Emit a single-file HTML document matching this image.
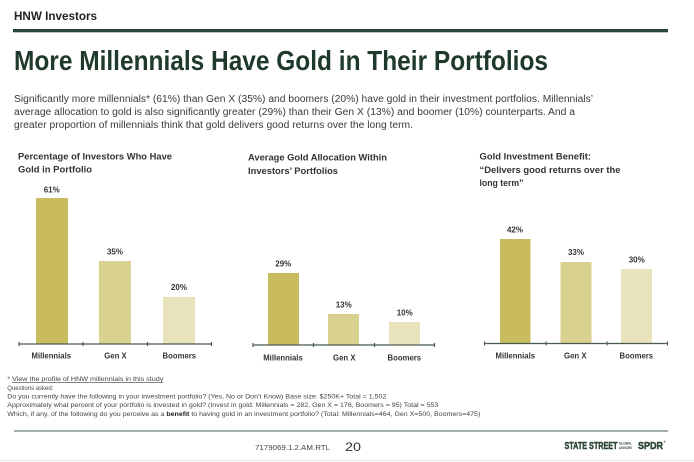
<!DOCTYPE html>
<html>
<head>
<meta charset="utf-8">
<style>
  html,body{margin:0;padding:0;background:#fff;}
  svg{display:block;}
  text{font-family:"Liberation Sans",Arial,sans-serif;}
</style>
</head>
<body>
<svg width="694" height="462" viewBox="0 0 694 462" xmlns="http://www.w3.org/2000/svg">
  <rect width="694" height="462" fill="#ffffff"/>

  <!-- Header -->
  <text x="14" y="20" font-size="11.5" font-weight="bold" fill="#222" textLength="83" lengthAdjust="spacingAndGlyphs">HNW Investors</text>
  <rect x="13" y="29" width="655" height="3.3" fill="#2a4536"/>

  <!-- Title -->
  <text x="14" y="70" font-size="28" font-weight="bold" fill="#1f3a2b" textLength="534" lengthAdjust="spacingAndGlyphs">More Millennials Have Gold in Their Portfolios</text>

  <!-- Body -->
  <g font-size="10" fill="#3a3a3a">
    <text x="14" y="102" textLength="579" lengthAdjust="spacingAndGlyphs">Significantly more millennials* (61%) than Gen X (35%) and boomers (20%) have gold in their investment portfolios. Millennials’</text>
    <text x="14" y="115" textLength="561" lengthAdjust="spacingAndGlyphs">average allocation to gold is also significantly greater (29%) than their Gen X (13%) and boomer (10%) counterparts. And a</text>
    <text x="14" y="128" textLength="399" lengthAdjust="spacingAndGlyphs">greater proportion of millennials think that gold delivers good returns over the long term.</text>
  </g>

  <!-- Chart titles -->
  <g font-size="9.5" font-weight="bold" fill="#333">
    <text x="18" y="159.5" textLength="154" lengthAdjust="spacingAndGlyphs">Percentage of Investors Who Have</text>
    <text x="18" y="172.5" textLength="74" lengthAdjust="spacingAndGlyphs">Gold in Portfolio</text>

    <text x="248" y="160.5" textLength="139" lengthAdjust="spacingAndGlyphs">Average Gold Allocation Within</text>
    <text x="248" y="174" textLength="90" lengthAdjust="spacingAndGlyphs">Investors’ Portfolios</text>

    <text x="479.5" y="159.5" textLength="111.5" lengthAdjust="spacingAndGlyphs">Gold Investment Benefit:</text>
    <text x="479.5" y="172.8" textLength="141" lengthAdjust="spacingAndGlyphs">“Delivers good returns over the</text>
    <text x="479.5" y="186" textLength="44" lengthAdjust="spacingAndGlyphs">long term”</text>
  </g>

  <!-- Chart 1 bars -->
  <rect x="36" y="198" width="32" height="146" fill="#c9bc5f"/>
  <rect x="99" y="261" width="32" height="83" fill="#d9d18f"/>
  <rect x="163" y="297" width="32" height="47" fill="#e8e3bb"/>
  <!-- Chart 2 bars -->
  <rect x="268" y="273" width="31" height="72" fill="#c9bc5f"/>
  <rect x="328" y="314" width="31" height="31" fill="#d9d18f"/>
  <rect x="389" y="322" width="31" height="23" fill="#e8e3bb"/>
  <!-- Chart 3 bars -->
  <rect x="500" y="239" width="30.5" height="104.5" fill="#c9bc5f"/>
  <rect x="560.5" y="262" width="31" height="81.5" fill="#d9d18f"/>
  <rect x="621" y="269" width="31" height="74.5" fill="#e8e3bb"/>

  <!-- Axes -->
  <g stroke="#4b5a50" stroke-width="1.2" fill="none">
    <line x1="19" y1="344" x2="212" y2="344"/>
    <line x1="19" y1="342" x2="19" y2="346"/>
    <line x1="83" y1="342" x2="83" y2="346"/>
    <line x1="147.5" y1="342" x2="147.5" y2="346"/>
    <line x1="211.5" y1="342" x2="211.5" y2="346"/>

    <line x1="253" y1="345" x2="435" y2="345"/>
    <line x1="253" y1="343" x2="253" y2="347"/>
    <line x1="313.5" y1="343" x2="313.5" y2="347"/>
    <line x1="374.5" y1="343" x2="374.5" y2="347"/>
    <line x1="434.5" y1="343" x2="434.5" y2="347"/>

    <line x1="484" y1="343.5" x2="668" y2="343.5"/>
    <line x1="484.5" y1="341.5" x2="484.5" y2="345.5"/>
    <line x1="546" y1="341.5" x2="546" y2="345.5"/>
    <line x1="607" y1="341.5" x2="607" y2="345.5"/>
    <line x1="667.5" y1="341.5" x2="667.5" y2="345.5"/>
  </g>

  <!-- Value labels -->
  <g font-size="8" font-weight="bold" fill="#333" text-anchor="middle">
    <text x="51.7" y="192.3">61%</text>
    <text x="115" y="254.3">35%</text>
    <text x="179" y="290">20%</text>

    <text x="283.3" y="266.7">29%</text>
    <text x="343.7" y="307.3">13%</text>
    <text x="404.7" y="315.7">10%</text>

    <text x="515" y="232.3">42%</text>
    <text x="576" y="255">33%</text>
    <text x="636.7" y="262.3">30%</text>
  </g>

  <!-- Category labels -->
  <g font-size="8.5" font-weight="bold" fill="#333" text-anchor="middle">
    <text x="51.3" y="358.5" textLength="39.5" lengthAdjust="spacingAndGlyphs">Millennials</text>
    <text x="115.5" y="358.5" textLength="22.5" lengthAdjust="spacingAndGlyphs">Gen X</text>
    <text x="179.3" y="358.5" textLength="33.5" lengthAdjust="spacingAndGlyphs">Boomers</text>

    <text x="283" y="360.7" textLength="39.5" lengthAdjust="spacingAndGlyphs">Millennials</text>
    <text x="344.3" y="360.7" textLength="22.5" lengthAdjust="spacingAndGlyphs">Gen X</text>
    <text x="404.3" y="360.7" textLength="33.5" lengthAdjust="spacingAndGlyphs">Boomers</text>

    <text x="515.3" y="358.5" textLength="39.5" lengthAdjust="spacingAndGlyphs">Millennials</text>
    <text x="575.3" y="358.5" textLength="22.5" lengthAdjust="spacingAndGlyphs">Gen X</text>
    <text x="636.3" y="358.5" textLength="33.5" lengthAdjust="spacingAndGlyphs">Boomers</text>
  </g>

  <!-- Footnotes -->
  <g font-size="6.6" fill="#444">
    <text x="7.3" y="381" textLength="156" lengthAdjust="spacingAndGlyphs">* <tspan text-decoration="underline">View the profile of HNW millennials in this study</tspan></text>
    <text x="7.3" y="389.8" textLength="46" lengthAdjust="spacingAndGlyphs">Questions asked:</text>
    <text x="7.3" y="398.6" textLength="379" lengthAdjust="spacingAndGlyphs">Do you currently have the following in your investment portfolio? (Yes, No or Don’t Know) Base size: $250K+ Total = 1,502</text>
    <text x="7.3" y="407.2" textLength="431" lengthAdjust="spacingAndGlyphs">Approximately what percent of your portfolio is invested in gold? (Invest in gold: Millennials = 282, Gen X = 176, Boomers = 95) Total = 553</text>
    <text x="7.3" y="415.8" textLength="473" lengthAdjust="spacingAndGlyphs">Which, if any, of the following do you perceive as a <tspan font-weight="bold" fill="#222">benefit</tspan> to having gold in an investment portfolio? (Total: Millennials=464, Gen X=500, Boomers=475)</text>
  </g>
  <line x1="14" y1="431" x2="668" y2="431" stroke="#6f7f76" stroke-width="1.3"/>

  <!-- Footer -->
  <text x="255" y="450" font-size="7" fill="#444" textLength="75" lengthAdjust="spacingAndGlyphs">7179069.1.2.AM.RTL</text>
  <text x="345" y="451" font-size="12" fill="#333" textLength="16" lengthAdjust="spacingAndGlyphs">20</text>

  <!-- Logo -->
  <g fill="#2a4536" font-weight="bold">
    <text x="564.5" y="449" font-size="10.5" stroke="#2a4536" stroke-width="0.5" textLength="53" lengthAdjust="spacingAndGlyphs">STATE STREET</text>
    <text x="619" y="444.5" font-size="3.4" textLength="13" lengthAdjust="spacingAndGlyphs">GLOBAL</text>
    <text x="619" y="448.8" font-size="3.4" textLength="13" lengthAdjust="spacingAndGlyphs">ADVISORS</text>
    <text x="638" y="449" font-size="10.5" stroke="#2a4536" stroke-width="0.5" textLength="25" lengthAdjust="spacingAndGlyphs">SPDR</text>
    <text x="663.5" y="443" font-size="3">®</text>
  </g>

  <line x1="0" y1="460.5" x2="694" y2="460.5" stroke="#e6e6e6" stroke-width="1"/>
</svg>
</body>
</html>
